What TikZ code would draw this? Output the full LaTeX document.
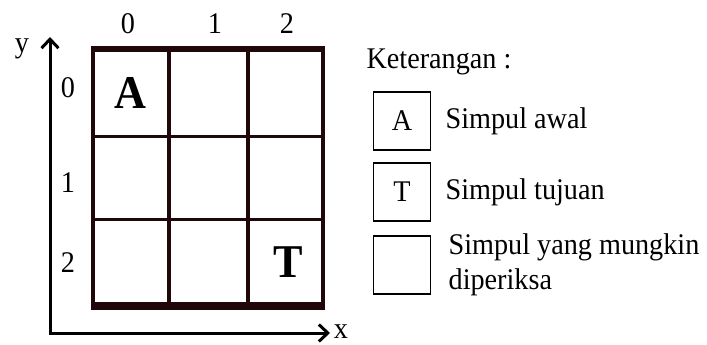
\documentclass[tikz,border=0pt]{standalone}
\usepackage{fontspec}
\setmainfont[FakeStretch=0.94]{Liberation Serif}
\usetikzlibrary{arrows.meta,positioning}
\definecolor{GridDark}{RGB}{32,8,10}
\tikzset{
  lbl/.style={font=\fontsize{30}{35}\selectfont},
  big/.style={font=\fontsize{47}{50}\selectfont\bfseries},
  keybox/.style={draw,line width=1.3pt,minimum width=57pt,minimum height=58pt,inner sep=0pt,lbl}
}
\begin{document}
\begin{tikzpicture}[x=1pt,y=-1pt,>={Straight Barb[length=9pt,width=17pt]}]
      \useasboundingbox (0,0) rectangle (707,345);
      % grid
      \draw[GridDark,line width=3pt] (92,136)--(323,136) (92,219)--(323,219);
      \draw[GridDark,line width=4pt] (93,48)--(93,306) (169,48)--(169,306)
        (248,48)--(248,306) (323,48)--(323,306);
      \draw[GridDark,line width=6pt] (91,49)--(325,49);
      \draw[GridDark,line width=8pt] (91,306)--(325,306);
      \node[big] (start) at (130,93) {A};
      \node[big] (goal) at (288,262) {T};
      \foreach \i/\x in {0/128,1/215,2/287}
        \node[lbl] (col\i) at (\x,24) {\i};
      \foreach \i/\y in {0/88,1/183,2/263}
        \node[lbl] (row\i) at (68,\y) {\i};
      % axes
      \coordinate (origin) at (50,333);
      \coordinate (ytip) at (50,37);
      \coordinate (xtip) at (330,333);
      \draw[<->,line width=3pt] (ytip)--(origin)--(xtip);
      \node[lbl] (ylab) at (22,49) {y};
      \node[lbl] (xlab) at (341,332) {x};
      % legend
      \node[lbl,anchor=west] (ket) at (363,62) {Keterangan :};
      \node[keybox] (boxA) at (402,121) {A};
      \node[keybox] (boxT) at (402,192) {T};
      \node[keybox] (boxC) at (402,265) {};
      \node[lbl,anchor=west,right=11pt of boxA] (txtA) {Simpul awal};
      \node[lbl,anchor=west,right=11pt of boxT] (txtT) {Simpul tujuan};
      \node[lbl,align=left,right=14pt of boxC] (txtC) {Simpul yang mungkin\\diperiksa};
\end{tikzpicture}
\end{document}
